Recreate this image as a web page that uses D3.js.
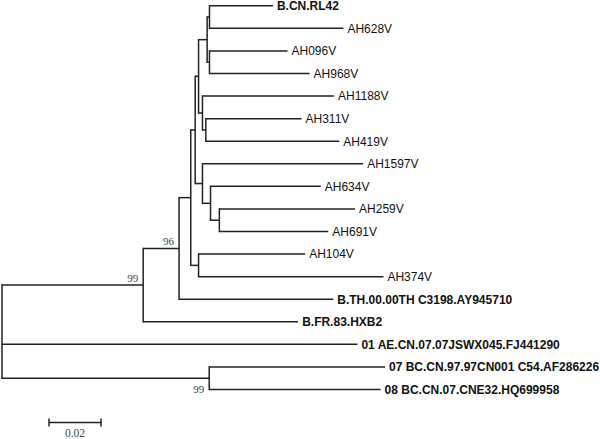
<!DOCTYPE html>
<html>
<head>
<meta charset="utf-8">
<script src="https://cdn.jsdelivr.net/npm/d3@7"></script>
<style>
  html, body { margin: 0; padding: 0; background: #fff; }
  svg { display: block; }
</style>
</head>
<body>
<svg id="chart" width="600" height="439"></svg>
<script>
// ---- Data ----
// Tree edges: [node, parent, branch length]; child order = drawing order (top to bottom)
const nodeIds = ["root","n99","AE","nBC","n96","FR","nN","TH","nM","nL4","nU6","nL3","nU3","nU5","nU1","nU2","RL42","V628","V096","V968","V1188","nU4","V311","V419","V1597","nL2","V634","nL1","V259","V691","V104","V374","BC07","BC08"];
const parentIds = [null,"root","root","root","n99","n99","n96","n96","nN","nN","nM","nM","nU6","nU6","nU3","nU3","nU1","nU1","nU2","nU2","nU5","nU5","nU4","nU4","nL3","nL3","nL2","nL2","nL1","nL1","nL4","nL4","nBC","nBC"];
const branchLengths = [0,0.0543,0.1367,0.0797,0.0138,0.0596,0.0045,0.0593,0.0017,0.0030,0.0013,0.0028,0.0033,0.0015,0.0009,0.0009,0.0244,0.0515,0.0300,0.0385,0.0506,0.0013,0.0368,0.0513,0.0618,0.0031,0.0424,0.0034,0.0522,0.0419,0.0410,0.0711,0.0676,0.0659];

// Leaf labels (by node id) and which are reference strains (bold)
const leafIds = ["RL42","V628","V096","V968","V1188","V311","V419","V1597","V634","V259","V691","V104","V374","TH","FR","AE","BC07","BC08"];
const leafLabels = ["B.CN.RL42","AH628V","AH096V","AH968V","AH1188V","AH311V","AH419V","AH1597V","AH634V","AH259V","AH691V","AH104V","AH374V","B.TH.00.00TH C3198.AY945710","B.FR.83.HXB2","01 AE.CN.07.07JSWX045.FJ441290","07 BC.CN.97.97CN001 C54.AF286226","08 BC.CN.07.CNE32.HQ699958"];
const boldLeaves = ["RL42","TH","FR","AE","BC07","BC08"];

// Bootstrap support values
const bootstrapNodes = ["n96","n99","nBC"];
const bootstrapValues = [96, 99, 99];

// Scale bar
const scaleBarLength = 0.02;
const scaleBarLabel = "0.02";

// ---- Layout ----
const svg = d3.select("#chart");
const rows = nodeIds.map((id, i) => ({ id, parent: parentIds[i], len: branchLengths[i] }));
const root = d3.stratify().id(d => d.id).parentId(d => d.parent)(rows);

// cumulative depth
root.each(n => { n.depth_ = n.parent ? n.parent.depth_ + n.data.len : 0; });

const xScale = d3.scaleLinear().domain([0, 0.02]).range([2, 54]);
const yScale = d3.scalePoint().domain(leafIds).range([5.8, 389.5]);

root.eachAfter(n => {
  n.px = xScale(n.depth_);
  if (!n.children) n.py = yScale(n.id);
  else n.py = d3.mean(n.children, c => c.py);
});

const g = svg.append("g");
const stroke = "#222";
const sw = 1.5;

// horizontal branches
g.selectAll("line.h").data(root.descendants().filter(n => n.parent))
  .join("line").attr("class", "h")
  .attr("x1", d => d.parent.px).attr("x2", d => d.px)
  .attr("y1", d => d.py).attr("y2", d => d.py)
  .attr("stroke", stroke).attr("stroke-width", sw);

// vertical connectors
g.selectAll("line.v").data(root.descendants().filter(n => n.children))
  .join("line").attr("class", "v")
  .attr("x1", d => d.px).attr("x2", d => d.px)
  .attr("y1", d => d3.min(d.children, c => c.py) - sw / 2)
  .attr("y2", d => d3.max(d.children, c => c.py) + sw / 2)
  .attr("stroke", stroke).attr("stroke-width", sw);

// leaf labels
const labelOf = new Map(leafIds.map((id, i) => [id, leafLabels[i]]));
g.selectAll("text.leaf").data(root.leaves())
  .join("text").attr("class", "leaf")
  .attr("x", d => d.px + 4)
  .attr("y", d => d.py + 4.3)
  .attr("font-family", "Arial, 'Liberation Sans', Helvetica, sans-serif")
  .attr("font-size", 12)
  .attr("font-weight", d => boldLeaves.includes(d.id) ? "bold" : "normal")
  .attr("fill", "#111")
  .text(d => labelOf.get(d.id));

// bootstrap labels
const nodeById = new Map(root.descendants().map(n => [n.id, n]));
bootstrapNodes.forEach((id, i) => {
  const n = nodeById.get(id);
  const below = n.py > root.py;
  g.append("text")
    .attr("x", n.px - 5)
    .attr("y", below ? n.py + 14.6 : n.py - 3)
    .attr("text-anchor", "end")
    .attr("font-family", "'Liberation Serif', 'Times New Roman', serif")
    .attr("font-size", 11)
    .attr("fill", "#444")
    .text(bootstrapValues[i]);
});

// scale bar
const sbX0 = 49, sbY = 422.5;
const sbW = xScale(scaleBarLength) - xScale(0);
const sb = svg.append("g").attr("stroke", stroke).attr("stroke-width", sw);
sb.append("line").attr("x1", sbX0).attr("x2", sbX0 + sbW).attr("y1", sbY).attr("y2", sbY);
sb.append("line").attr("x1", sbX0).attr("x2", sbX0).attr("y1", sbY - 4).attr("y2", sbY + 4);
sb.append("line").attr("x1", sbX0 + sbW).attr("x2", sbX0 + sbW).attr("y1", sbY - 4).attr("y2", sbY + 4);
svg.append("text")
  .attr("x", sbX0 + sbW / 2).attr("y", 437)
  .attr("text-anchor", "middle")
  .attr("font-family", "'Liberation Serif', 'Times New Roman', serif")
  .attr("font-size", 11.5)
  .attr("fill", "#444")
  .text(scaleBarLabel);
</script>
</body>
</html>
